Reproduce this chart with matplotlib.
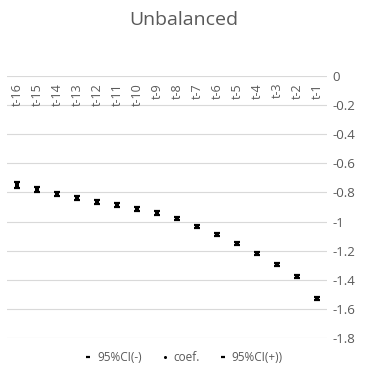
import matplotlib
matplotlib.use("Agg")
import matplotlib.pyplot as plt
import matplotlib.transforms as mtransforms
import numpy as np

# Categories (lags) and estimates
LAGS = ["t-16", "t-15", "t-14", "t-13", "t-12", "t-11", "t-10", "t-9",
        "t-8", "t-7", "t-6", "t-5", "t-4", "t-3", "t-2", "t-1"]
COEF = [-0.750, -0.778, -0.810, -0.838, -0.865, -0.886, -0.913, -0.941,
        -0.982, -1.035, -1.087, -1.149, -1.218, -1.293, -1.380, -1.527]
CI_LOW = [-0.772, -0.796, -0.826, -0.853, -0.878, -0.898, -0.925, -0.952,
          -0.992, -1.045, -1.097, -1.159, -1.228, -1.303, -1.390, -1.537]
CI_HIGH = [-0.728, -0.760, -0.794, -0.823, -0.852, -0.874, -0.901, -0.930,
           -0.972, -1.025, -1.077, -1.139, -1.208, -1.283, -1.370, -1.517]
Y_TICKS = [0, -0.2, -0.4, -0.6, -0.8, -1, -1.2, -1.4, -1.6, -1.8]

GRAY = "#595959"
plt.rcParams["font.family"] = ["Open Sans", "DejaVu Sans"]

fig = plt.figure(figsize=(3.67, 3.80), dpi=100)
ax = fig.add_axes([0.019, 0.1105, 0.872, 0.6895])

x = np.arange(len(LAGS))
ax.plot(x, CI_LOW, linestyle="none", marker="_", markersize=4, mew=1.6,
        color="black", label="95%CI(-)")
ax.plot(x, COEF, linestyle="none", marker="s", markersize=2.3, mew=0,
        color="black", label="coef.")
ax.plot(x, CI_HIGH, linestyle="none", marker="_", markersize=4, mew=1.6,
        color="black", label="95%CI(+))")

ax.set_xlim(-0.5, len(LAGS) - 0.5)
ax.set_ylim(-1.8, 0)
ax.set_yticks(Y_TICKS)
ax.set_yticklabels([f"{v:g}" for v in Y_TICKS])
ax.yaxis.tick_right()
ax.tick_params(axis="y", length=0, pad=4, labelsize=9.5, labelcolor=GRAY)
ax.set_xticks([])
ax.grid(axis="y", color="#d9d9d9", linewidth=0.8)
ax.set_axisbelow(True)
for s in ax.spines.values():
    s.set_visible(False)

# category labels hang just below the zero line
off = mtransforms.offset_copy(ax.transData, fig=fig, x=0, y=-7, units="dots")
for i, lab in enumerate(LAGS):
    ax.text(i, 0, lab, rotation=90, ha="center", va="top", fontsize=9,
            color=GRAY, transform=off)

fig.suptitle("Unbalanced", y=0.972, fontsize=14, color=GRAY)
leg = fig.legend(loc="center", bbox_to_anchor=(0.5, 0.058), ncol=3, frameon=False,
                 fontsize=8.5, handlelength=0.7, handletextpad=0.4,
                 columnspacing=1.6, labelcolor=GRAY)
leg.legend_handles[1].set_marker("o")
leg.legend_handles[1].set_markersize(2.2)
for h in (leg.legend_handles[0], leg.legend_handles[2]):
    h.set_markersize(3.5)

fig.savefig("out.png", dpi=100)
